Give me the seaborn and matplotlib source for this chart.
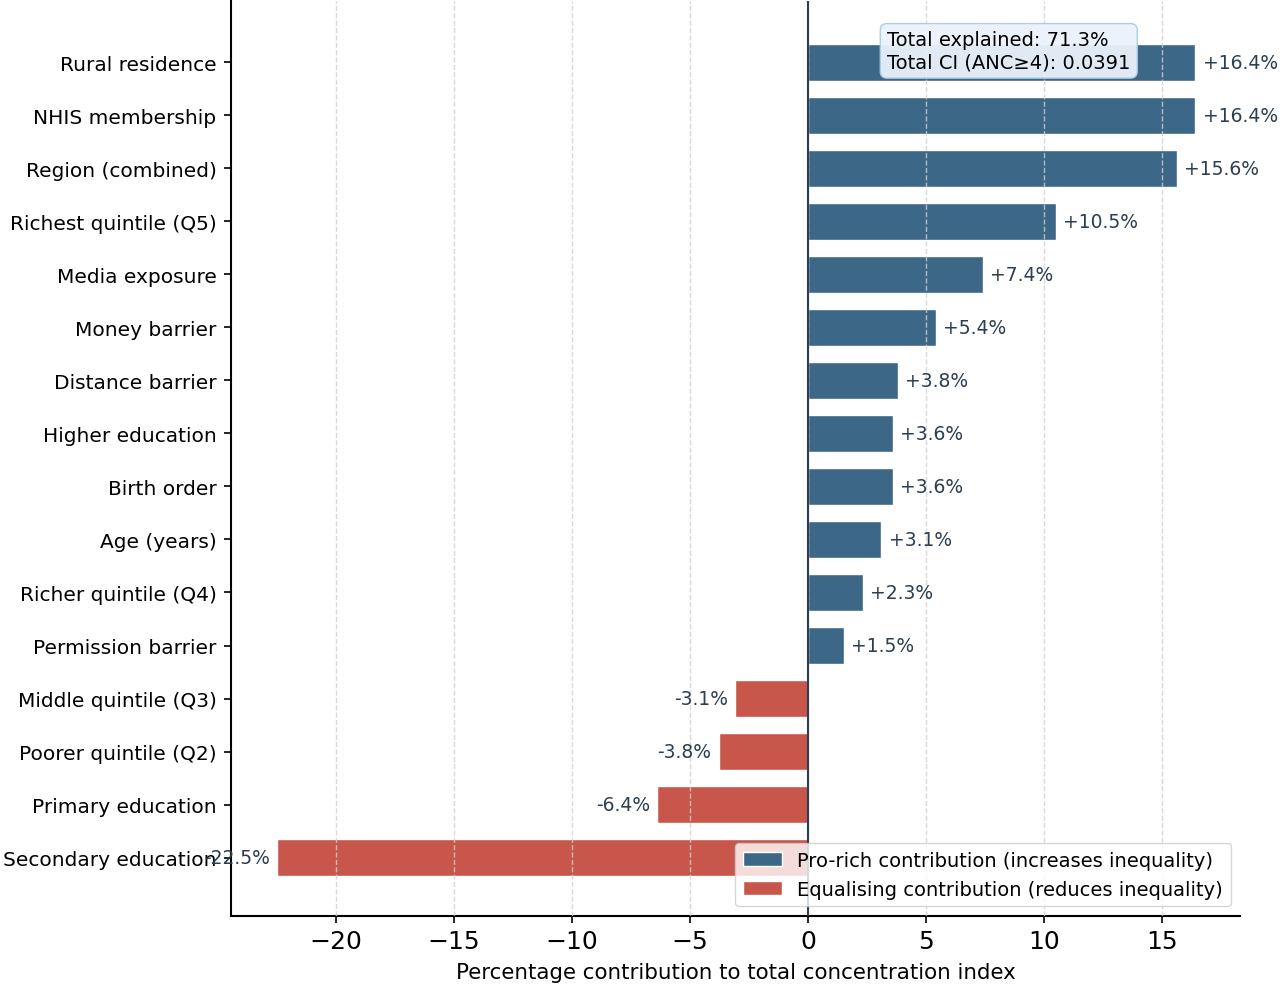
import numpy as np
import pandas as pd
import seaborn as sns
import matplotlib
matplotlib.use("Agg")
import matplotlib.pyplot as plt
from matplotlib.patches import Patch

# Data
factors = [
    "Rural residence", "NHIS membership", "Region (combined)", "Richest quintile (Q5)",
    "Media exposure", "Money barrier", "Distance barrier", "Higher education",
    "Birth order", "Age (years)", "Richer quintile (Q4)", "Permission barrier",
    "Middle quintile (Q3)", "Poorer quintile (Q2)", "Primary education", "Secondary education",
]
contribution = [16.4, 16.4, 15.6, 10.5, 7.4, 5.4, 3.8, 3.6, 3.6, 3.1, 2.3, 1.5,
                -3.1, -3.8, -6.4, -22.5]
total_explained = 71.3
total_ci = 0.0391

blue = "#3d6787"
red = "#c8564a"
text_col = "#2c3e50"

df = pd.DataFrame({"factor": factors, "contribution": contribution})
df["direction"] = np.where(df["contribution"] >= 0, "pos", "neg")

sns.set_style("white")
plt.rcParams["font.family"] = ["DejaVu Sans"]
plt.rcParams["text.color"] = "black"
plt.rcParams["axes.labelcolor"] = "black"
plt.rcParams["xtick.color"] = "black"
plt.rcParams["ytick.color"] = "black"

fig = plt.figure(figsize=(12.8, 9.87), dpi=100)
ax = fig.add_axes([0.1805, 0.0709, 0.7885, 0.927])

sns.barplot(data=df, y="factor", x="contribution", hue="direction",
            palette={"pos": blue, "neg": red}, dodge=False, width=0.7,
            orient="h", legend=False, ax=ax, saturation=1)

# Value labels
for i, v in enumerate(contribution):
    if v >= 0:
        ax.text(v + 0.3, i, f"+{v:.1f}%", va="center", ha="left",
                fontsize=13.5, color=text_col)
    else:
        ax.text(v - 0.3, i, f"{v:.1f}%", va="center", ha="right",
                fontsize=13.5, color=text_col)

ax.axvline(0, color=text_col, linewidth=1.5, zorder=5)

ax.set_xlim(-24.45, 18.3)
ax.set_ylim(16.1, -1.15)
ax.set_xticks([-20, -15, -10, -5, 0, 5, 10, 15])
ax.grid(axis="x", linestyle="--", color="#d0d0d0", alpha=0.8, linewidth=1)
ax.grid(axis="y", visible=False)
ax.set_axisbelow(False)

ax.set_ylabel("")
ax.set_xlabel("Percentage contribution to total concentration index", fontsize=15.4, labelpad=6)
ax.tick_params(axis="y", labelsize=14.5, left=True, length=5, width=1.2, pad=5.5)
ax.tick_params(axis="x", labelsize=18, bottom=True, length=5, width=1.2, pad=4.5)

for s in ["top", "right"]:
    ax.spines[s].set_visible(False)
for s in ["left", "bottom"]:
    ax.spines[s].set_color("black")
    ax.spines[s].set_linewidth(1.5)

# Summary box
ax.text(0.65, 0.968, f"Total explained: {total_explained}%\nTotal CI (ANC\u22654): {total_ci:.4f}",
        transform=ax.transAxes, ha="left", va="top", fontsize=14, color="black",
        zorder=10,
        bbox=dict(boxstyle="round,pad=0.35", facecolor="#eaf2fb", edgecolor="#a9cce3", alpha=0.95))

handles = [Patch(facecolor=blue, label="Pro-rich contribution (increases inequality)"),
           Patch(facecolor=red, label="Equalising contribution (reduces inequality)")]
leg = ax.legend(handles=handles, loc="lower right", fontsize=14, frameon=True,
                bbox_to_anchor=(1.0, 0.0))
leg.set_zorder(11)

plt.savefig("out.png", dpi=100)
